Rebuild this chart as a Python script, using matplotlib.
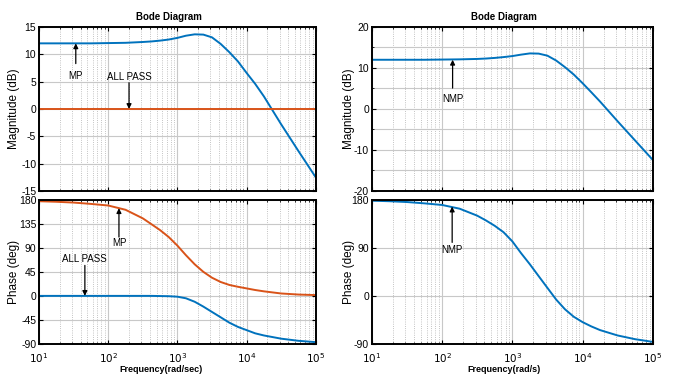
import numpy as np
import matplotlib.pyplot as plt
from matplotlib.ticker import FixedLocator, LogLocator, NullFormatter

plt.rcParams['font.family'] = ['Liberation Sans Narrow', 'Liberation Sans', 'DejaVu Sans']

freq = [10, 17.8, 31.6, 56.2, 100, 178, 316, 422, 562, 750, 1000, 1330, 1780,
        2370, 3160, 4220, 5620, 7500, 10000, 13300, 17800, 31600, 56200, 100000]

# magnitude (dB)
mag_mp = [12.0, 12.0, 12.0, 12.0, 12.05, 12.1, 12.25, 12.35, 12.5, 12.7, 13.0, 13.4,
          13.65, 13.6, 13.1, 11.9, 10.4, 8.7, 6.6, 4.6, 2.3, -2.8, -7.7, -12.5]
mag_allpass = [0] * len(freq)
mag_nmp = [12.0, 12.0, 12.0, 12.0, 12.05, 12.1, 12.2, 12.3, 12.45, 12.65, 12.9, 13.25,
           13.55, 13.5, 13.0, 11.8, 10.2, 8.4, 6.3, 4.1, 1.8, -3.0, -7.7, -12.4]

# phase (deg)
ph_mp = [177, 176, 174.5, 172, 169, 161, 145, 134, 123, 110, 94, 76,
         59, 45, 34, 26, 20.5, 17, 14, 11, 8.5, 4.5, 2.5, 1.5]
ph_allpass = [0, 0, 0, 0, 0, 0, 0, 0, -0.3, -0.6, -1.5, -4.5,
              -11, -20, -30, -40, -50, -58, -64, -70, -74, -80, -84, -86.5]
ph_nmp = [178, 177, 175.5, 173, 170, 163, 150, 141, 131, 119, 102, 80,
          59, 37, 15, -7, -25, -39, -49, -57, -64, -74, -81, -86]

BLUE = '#0072BD'
ORANGE = '#D95319'
GRID = '#c8c8c8'

fig = plt.figure(figsize=(6.75, 3.78), dpi=100)

def style(ax, yticks, ylim, minor_y=None, show_x=False):
    ax.set_xscale('log')
    ax.set_xlim(10, 1e5)
    ax.set_ylim(*ylim)
    ax.set_yticks(yticks)
    ax.set_yticklabels([str(t) for t in yticks], fontsize=7.5)
    if minor_y is not None:
        ax.yaxis.set_minor_locator(FixedLocator(minor_y))
        ax.grid(True, which='minor', axis='y', color=GRID, lw=0.8, ls='-')
    ax.xaxis.set_major_locator(FixedLocator([10, 100, 1000, 10000, 100000]))
    ax.xaxis.set_minor_locator(LogLocator(base=10, subs=np.arange(2, 10)))
    ax.xaxis.set_minor_formatter(NullFormatter())
    if show_x:
        ax.set_xticklabels(['$10^1$', '$10^2$', '$10^3$', '$10^4$', '$10^5$'], fontsize=7.5)
    else:
        ax.set_xticklabels([])
    ax.grid(True, which='major', color=GRID, lw=0.8, ls='-')
    ax.grid(True, which='minor', axis='x', color='#b0b0b0', lw=0.6, ls=':')
    ax.tick_params(which='both', direction='in', top=True, right=True)
    ax.tick_params(axis='y', pad=2)
    ax.tick_params(axis='x', pad=5)
    ax.tick_params(which='major', length=3)
    ax.tick_params(which='minor', length=1.5)
    ax.set_axisbelow(True)
    for s in ax.spines.values():
        s.set_linewidth(1.4)

def arrow(ax, text, x, y_tip, y_tail, y_text):
    ax.annotate('', xy=(x, y_tip), xytext=(x, y_tail),
                arrowprops=dict(arrowstyle='-|>', color='black', lw=0.9,
                                mutation_scale=7, shrinkA=0, shrinkB=0))
    ax.text(x, y_text, text, ha='center', va='center', fontsize=7)

lw = 1.4
ylab_font = ['Liberation Sans', 'DejaVu Sans']

def ylab(ax, text, xpos):
    ax.set_ylabel(text, fontsize=8.5, family=ylab_font)
    ax.yaxis.set_label_coords(xpos, 0.5)

# left column
ax1 = fig.add_axes([0.0578, 0.4947, 0.410, 0.434])
ax1.plot(freq, mag_mp, color=BLUE, lw=lw)
ax1.plot(freq, mag_allpass, color=ORANGE, lw=lw)
style(ax1, [-15, -10, -5, 0, 5, 10, 15], (-15, 15))
ylab(ax1, 'Magnitude (dB)', -0.07)
ax1.set_title('Bode Diagram', fontsize=7, fontweight='bold', pad=5, x=0.47)
arrow(ax1, 'MP', 34, 12, 8.3, 6.1)
arrow(ax1, 'ALL PASS', 200, 0, 4.8, 5.8)

ax2 = fig.add_axes([0.0578, 0.0899, 0.410, 0.382])
ax2.plot(freq, ph_mp, color=ORANGE, lw=lw)
ax2.plot(freq, ph_allpass, color=BLUE, lw=lw)
style(ax2, [-90, -45, 0, 45, 90, 135, 180], (-90, 180), show_x=True)
ylab(ax2, 'Phase (deg)', -0.07)
ax2.set_xlabel('Frequency(rad/sec)', fontsize=6.5, fontweight='bold', labelpad=0, x=0.44)
arrow(ax2, 'MP', 143, 164, 110, 99)
arrow(ax2, 'ALL PASS', 46, 0, 57, 69)

# right column
ax3 = fig.add_axes([0.551, 0.4947, 0.416, 0.434])
ax3.plot(freq, mag_nmp, color=BLUE, lw=lw)
style(ax3, [-20, -10, 0, 10, 20], (-20, 20), minor_y=[-15, -5, 5, 15])
ylab(ax3, 'Magnitude (dB)', -0.06)
ax3.set_title('Bode Diagram', fontsize=7, fontweight='bold', pad=5, x=0.47)
arrow(ax3, 'NMP', 141, 12, 5.1, 2.4)

ax4 = fig.add_axes([0.551, 0.0899, 0.416, 0.382])
ax4.plot(freq, ph_nmp, color=BLUE, lw=lw)
style(ax4, [-90, 0, 90, 180], (-90, 180), show_x=True)
ylab(ax4, 'Phase (deg)', -0.06)
ax4.set_xlabel('Frequency(rad/s)', fontsize=6.5, fontweight='bold', labelpad=0, x=0.47)
arrow(ax4, 'NMP', 139, 167, 100, 86)

fig.savefig('out.png', dpi=100)
